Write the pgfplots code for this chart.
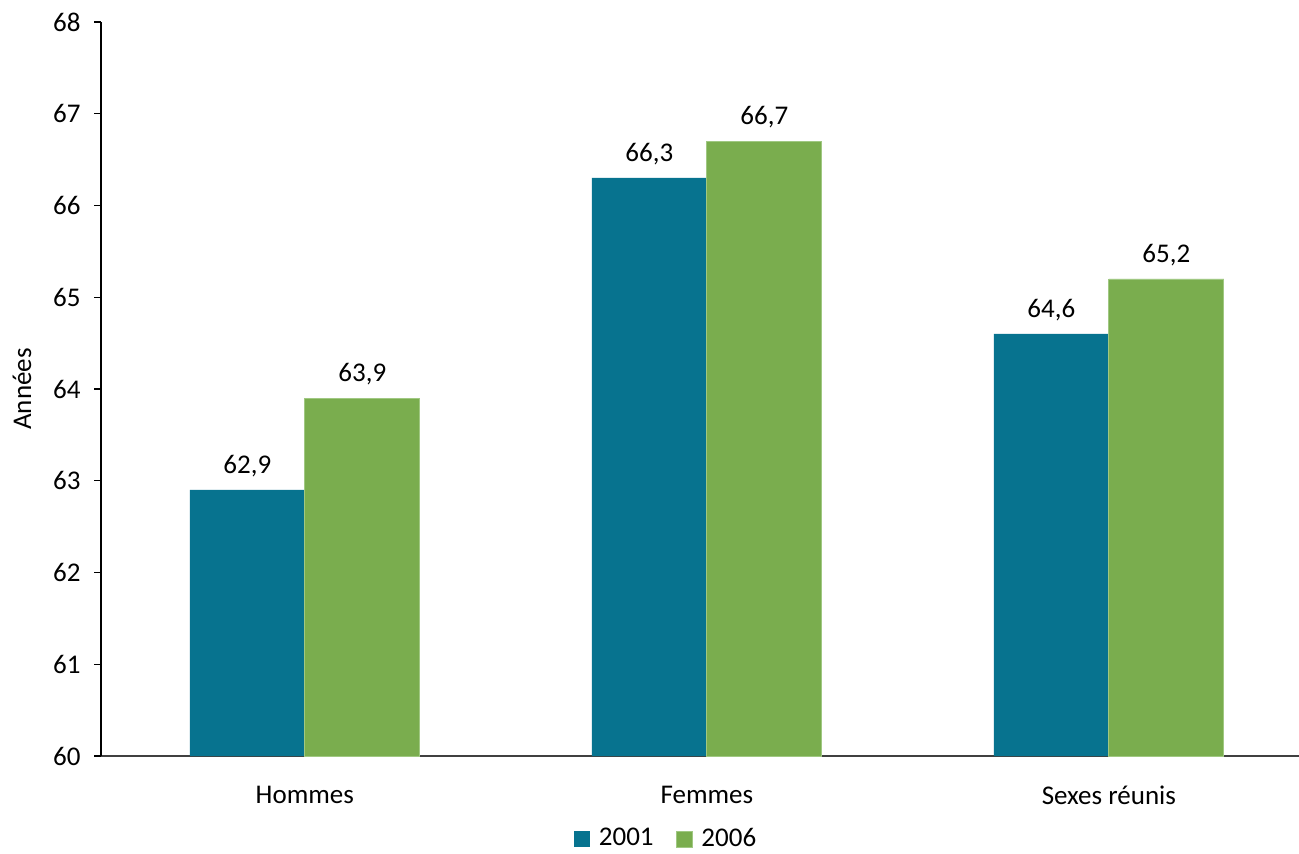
\documentclass[border=0pt]{standalone}
\usepackage{pgfplots}
\pgfplotsset{compat=1.18}
\usepackage{fontspec}
\setmainfont{Carlito}
\definecolor{cteal}{RGB}{7,115,143}
\definecolor{cgreen}{RGB}{122,173,78}
\definecolor{cgreenedge}{RGB}{160,200,130}
\begin{document}
\fontsize{13.5pt}{16pt}\selectfont
\begin{tikzpicture}
\useasboundingbox (0,0) rectangle (649.5pt,426.5pt);
\begin{axis}[
  at={(50.5pt,48.5pt)}, anchor=south west,
  scale only axis, width=599pt, height=367pt,
  ybar=0pt, bar width=57.5pt,
  xmin=-0.507, xmax=2.473,
  ymin=60, ymax=68, ytick={60,61,...,68},
  xtick=data, xticklabels={Hommes,Femmes,Sexes réunis},
  xtick style={draw=none},
  axis x line*=bottom, axis y line*=left,
  x axis line style={draw=black!75, line width=0.8pt},
  y axis line style={draw=black, line width=0.6pt},
  tick align=outside, major tick length=3.5pt,
  ytick style={draw=black, line width=0.6pt},
  /pgf/number format/assume math mode=true,
  tick label style={font=\fontsize{13.5pt}{16pt}\selectfont},
  yticklabel style={xshift=-2pt},
  xticklabel style={yshift=-7pt},
  ylabel={Années},
  ylabel style={at={(axis description cs:-0.066,0.5)}, anchor=center, rotate=0, font=\fontsize{13.5pt}{16pt}\selectfont},
  nodes near coords,
  nodes near coords style={font=\fontsize{13.5pt}{16pt}\selectfont, /pgf/number format/use comma, /pgf/number format/fixed, /pgf/number format/fixed zerofill, /pgf/number format/precision=1, /pgf/number format/assume math mode=true, yshift=2pt},
  legend style={at={(0.4725,-0.113)}, anchor=center, draw=none, legend columns=2, font=\fontsize{13.5pt}{16pt}\selectfont, /tikz/every even column/.append style={column sep=9pt}, /tikz/every odd column/.append style={column sep=2.5pt}},
  legend image code/.code={\fill[#1] (0pt,-4pt) rectangle (8pt,4pt);},
]
\addplot[fill=cteal, draw=none] coordinates {(0,62.9) (1,66.3) (2,64.6)};
\addplot[fill=cgreen, draw=cgreenedge, line width=0.4pt] coordinates {(0,63.9) (1,66.7) (2,65.2)};
\legend{2001,2006}
\end{axis}
\end{tikzpicture}
\end{document}
